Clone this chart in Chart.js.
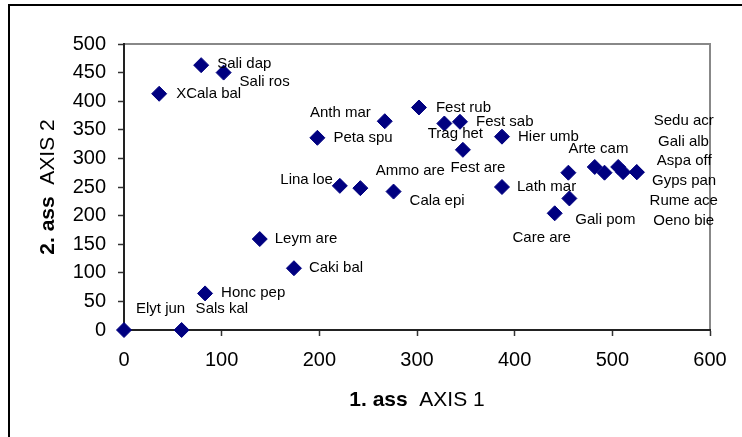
<!DOCTYPE html>
<html>
<head>
<meta charset="utf-8">
<script src="https://cdn.jsdelivr.net/npm/chart.js@4/dist/chart.umd.min.js"></script>
<style>
  body { margin: 0; background: #fff; }
  canvas { display: block; }
</style>
</head>
<body>
<canvas id="ordChart" width="742" height="437"></canvas>
<script>
// species codes and their ordination scores
const species = ['Elyt jun', 'Sals kal', 'Honc pep', 'Leym are', 'Caki bal', 'XCala bal', 'Sali dap',
    'Sali ros', 'Peta spu', 'Lina loe', 'Ammo are', 'Cala epi', 'Anth mar', 'Fest rub', 'Trag het',
    'Fest sab', 'Fest are', 'Hier umb', 'Lath mar', 'Care are', 'Gali pom', 'Arte cam', 'Sedu acr',
    'Gali alb', 'Aspa off', 'Gyps pan', 'Rume ace', 'Oeno bie'];
const axis1 = [0, 59, 83, 139, 174, 36, 79, 102, 198, 221, 242, 276, 267, 302, 328,
    344, 347, 387, 387, 441, 456, 455, 482, 492, 506, 511, 525, 525];
const axis2 = [0, 0, 64, 159, 108, 413, 463, 450, 336, 252, 248, 242, 365, 389, 361,
    364, 315, 338, 250, 204, 230, 275, 285, 275, 285, 276, 276, 276];
const xTickValues = [0, 100, 200, 300, 400, 500, 600];
const yTickValues = [0, 50, 100, 150, 200, 250, 300, 350, 400, 450, 500];

// where each label sits relative to its point: [dx, dy, align]
const labelOffsets = [
    [12, -21, 'left'], [14, -21, 'left'], [16, -1, 'left'], [15, 0, 'left'], [15, 0, 'left'],
    [17, 0, 'left'], [16, -1, 'left'], [16, 9, 'left'], [16, 0, 'left'], [-7, -6, 'right'],
    [50, -17, 'center'], [16, 9, 'left'], [-14, -8, 'right'], [17, 0, 'left'], [11, 10, 'center'],
    [16, 0, 'left'], [15, 18, 'center'], [16, 0, 'left'], [15, 0, 'left'], [-13, 25, 'center'],
    [6, 21, 'left'], [30, -24, 'center'], [89, -46, 'center'], [79, -31, 'center'],
    [66, -6, 'center'], [61, 9, 'center'], [47, 29, 'center'], [47, 49, 'center']
];

const FONT = '"Liberation Sans", Arial, sans-serif';

// frame, point labels and the mixed bold/normal axis titles
const decorPlugin = {
    id: 'decor',
    beforeDraw(chart) {
        const ctx = chart.ctx, a = chart.chartArea;
        ctx.save();
        ctx.strokeStyle = '#000';
        ctx.lineWidth = 2;
        ctx.beginPath();
        ctx.moveTo(8, 5); ctx.lineTo(742, 5);
        ctx.moveTo(9, 4); ctx.lineTo(9, 437);
        ctx.stroke();
        ctx.strokeStyle = '#888';
        ctx.lineWidth = 2;
        ctx.strokeRect(a.left, a.top, a.right - a.left, a.bottom - a.top);
        ctx.restore();
    },
    afterDatasetsDraw(chart) {
        const ctx = chart.ctx;
        const pts = chart.getDatasetMeta(0).data;
        ctx.save();
        ctx.font = '15px ' + FONT;
        ctx.fillStyle = '#000';
        ctx.textBaseline = 'middle';
        pts.forEach(function(p, i) {
            const o = labelOffsets[i];
            ctx.textAlign = o[2];
            ctx.fillText(species[i], p.x + o[0], p.y + o[1]);
        });
        ctx.restore();
    },
    afterDraw(chart) {
        const ctx = chart.ctx, a = chart.chartArea;
        function title(bold, normal) {
            ctx.font = 'bold 21px ' + FONT;
            const w1 = ctx.measureText(bold + '  ').width;
            ctx.font = '21px ' + FONT;
            const w2 = ctx.measureText(normal).width;
            const x0 = -(w1 + w2) / 2;
            ctx.textAlign = 'left';
            ctx.textBaseline = 'middle';
            ctx.font = 'bold 21px ' + FONT;
            ctx.fillText(bold, x0, 0);
            ctx.font = '21px ' + FONT;
            ctx.fillText(normal, x0 + w1, 0);
        }
        ctx.save();
        ctx.fillStyle = '#000';
        ctx.translate((a.left + a.right) / 2, 400);
        title('1. ass', 'AXIS 1');
        ctx.restore();
        ctx.save();
        ctx.fillStyle = '#000';
        ctx.translate(48, (a.top + a.bottom) / 2);
        ctx.rotate(-Math.PI / 2);
        title('2. ass', 'AXIS 2');
        ctx.restore();
    }
};

const ctx = document.getElementById('ordChart').getContext('2d');
new Chart(ctx, {
    type: 'scatter',
    data: {
        datasets: [{
            label: 'species',
            data: species.map((s, i) => ({ x: axis1[i], y: axis2[i] })),
            pointStyle: 'rectRot',
            pointRadius: 7.5,
            pointHoverRadius: 7.5,
            backgroundColor: '#000080',
            borderColor: '#000080',
            borderWidth: 1,
            clip: false
        }]
    },
    options: {
        responsive: false,
        animation: false,
        events: [],
        layout: { padding: { top: 44, right: 32, left: 0, bottom: 0 } },
        plugins: { legend: { display: false }, tooltip: { enabled: false } },
        scales: {
            x: {
                type: 'linear',
                min: 0,
                max: 600,
                afterBuildTicks: s => { s.ticks = xTickValues.map(v => ({ value: v })); },
                afterFit: s => { s.height = 107; },
                grid: { drawOnChartArea: false, drawTicks: true, tickLength: 6, tickColor: '#333', tickWidth: 1.5 },
                border: { display: true, color: '#222', width: 2 },
                ticks: { color: '#000', padding: 12, font: { family: FONT, size: 20 } }
            },
            y: {
                type: 'linear',
                min: 0,
                max: 500,
                afterBuildTicks: s => { s.ticks = yTickValues.map(v => ({ value: v })); },
                afterFit: s => { s.width = 124; },
                grid: { drawOnChartArea: false, drawTicks: true, tickLength: 6, tickColor: '#333', tickWidth: 1.5 },
                border: { display: true, color: '#222', width: 2 },
                ticks: { color: '#000', padding: 12, font: { family: FONT, size: 20 } }
            }
        }
    },
    plugins: [decorPlugin]
});
</script>
</body>
</html>
